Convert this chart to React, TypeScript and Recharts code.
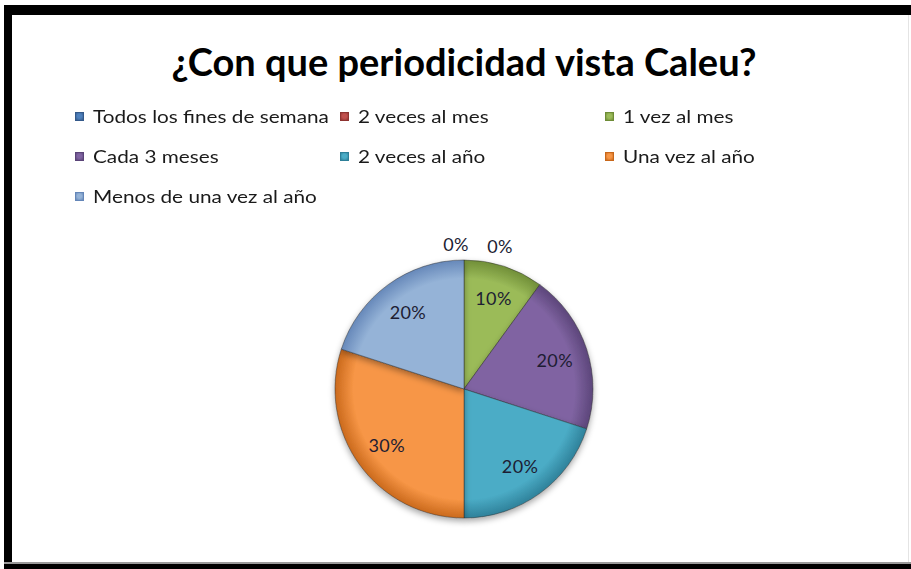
import React from 'react';
import { PieChart, Pie, Cell } from 'recharts';

const title = '¿Con que periodicidad vista Caleu?';
const categories = [
  'Todos los fines de semana',
  '2 veces al mes',
  '1 vez al mes',
  'Cada 3 meses',
  '2 veces al año',
  'Una vez al año',
  'Menos de una vez al año',
];
const counts = [0, 0, 1, 2, 2, 3, 2];
const colors = ['#4F81BD', '#C0504D', '#9BBB59', '#8064A2', '#4BACC6', '#F79646', '#95B3D7'];
const darkColors = ['#34598A', '#8E3330', '#6E8C36', '#5A4478', '#2D7F98', '#C8671A', '#6486B8'];

const total = counts.reduce((a, b) => a + b, 0);
const data = categories.map((name, i) => ({ name, value: counts[i] }));

const FONT = 'Lato, "Open Sans", sans-serif';
const RAD = Math.PI / 180;

const renderLabel = (p: any) => {
  const { cx, cy, midAngle, outerRadius, value, index } = p;
  let x: number;
  let y: number;
  if (value === 0) {
    const r = outerRadius + 16;
    x = cx + r * Math.cos(-midAngle * RAD) + (index === 0 ? -8 : 36);
    y = cy + r * Math.sin(-midAngle * RAD) + (index === 0 ? 0 : 2);
  } else {
    const r = outerRadius * 0.74;
    x = cx + r * Math.cos(-midAngle * RAD);
    y = cy + r * Math.sin(-midAngle * RAD);
  }
  const pct = Math.round((value / total) * 100) + '%';
  return (
    <text
      x={x}
      y={y}
      textAnchor="middle"
      dominantBaseline="central"
      fontFamily={FONT}
      fontSize={18}
      letterSpacing={0.4}
      fill="#1d1d33"
    >
      {pct}
    </text>
  );
};

export default function App() {
  return (
    <div
      style={{
        position: 'absolute',
        left: 0,
        top: 0,
        width: 911,
        height: 569,
        background: '#ffffff',
        overflow: 'hidden',
        fontFamily: FONT,
      }}
    >
      {/* frame */}
      <div style={{ position: 'absolute', left: 4, top: 5, width: 907, height: 10, background: '#000' }} />
      <div style={{ position: 'absolute', left: 4, top: 5, width: 8, height: 564, background: '#000' }} />
      <div style={{ position: 'absolute', left: 4, top: 562, width: 907, height: 2, background: '#9a9a9a' }} />
      <div style={{ position: 'absolute', left: 4, top: 564, width: 907, height: 5, background: '#000' }} />
      <div style={{ position: 'absolute', left: 908, top: 15, width: 1, height: 547, background: '#e4e4e4' }} />

      <div
        style={{
          position: 'absolute',
          left: 0,
          top: 37,
          width: 928,
          textAlign: 'center',
          fontSize: 38,
          fontWeight: 700,
          color: '#000',
          lineHeight: '48px',
          whiteSpace: 'nowrap',
        }}
      >
        {title}
      </div>

      <div
        style={{
          position: 'absolute',
          left: 75,
          top: 104,
          display: 'grid',
          gridTemplateColumns: '265px 265px 220px',
          gridAutoRows: '40px',
        }}
      >
        {categories.map((c, i) => (
          <div key={c} style={{ display: 'flex', alignItems: 'center', height: 24, whiteSpace: 'nowrap' }}>
            <div
              style={{
                width: 9,
                height: 9,
                marginRight: 9,
                flex: 'none',
                background: `radial-gradient(circle at 50% 45%, ${colors[i]} 40%, ${darkColors[i]} 100%)`,
                border: `1px solid ${darkColors[i]}`,
                boxSizing: 'border-box',
              }}
            />
            <span
              style={{
                fontSize: 17,
                color: '#1a1a1a',
                display: 'inline-block',
                transform: 'scaleX(1.22)',
                transformOrigin: 'left center',
              }}
            >
              {c}
            </span>
          </div>
        ))}
      </div>

      <div style={{ position: 'absolute', left: 0, top: 0 }}>
        <PieChart width={911} height={569} margin={{ top: 0, right: 0, bottom: 0, left: 0 }}>
          <defs>
            {colors.map((c, i) => (
              <radialGradient key={i} id={`grad${i}`} cx="464" cy="389" r="130" gradientUnits="userSpaceOnUse">
                <stop offset="0%" stopColor={c} />
                <stop offset="85%" stopColor={c} />
                <stop offset="100%" stopColor={darkColors[i]} />
              </radialGradient>
            ))}
            <filter id="shadow" x="-20%" y="-20%" width="140%" height="140%">
              <feDropShadow dx="0" dy="3" stdDeviation="3" floodColor="#000" floodOpacity="0.35" />
            </filter>
          </defs>
          <Pie
            data={data}
            dataKey="value"
            nameKey="name"
            cx={464}
            cy={389}
            outerRadius={129}
            startAngle={90}
            endAngle={-270}
            label={renderLabel}
            labelLine={false}
            isAnimationActive={false}
            stroke="rgba(40,40,40,0.45)"
            strokeWidth={1}
            style={{ filter: 'url(#shadow)' }}
          >
            {data.map((d, i) => (
              <Cell key={d.name} fill={`url(#grad${i})`} />
            ))}
          </Pie>
        </PieChart>
      </div>
    </div>
  );
}
